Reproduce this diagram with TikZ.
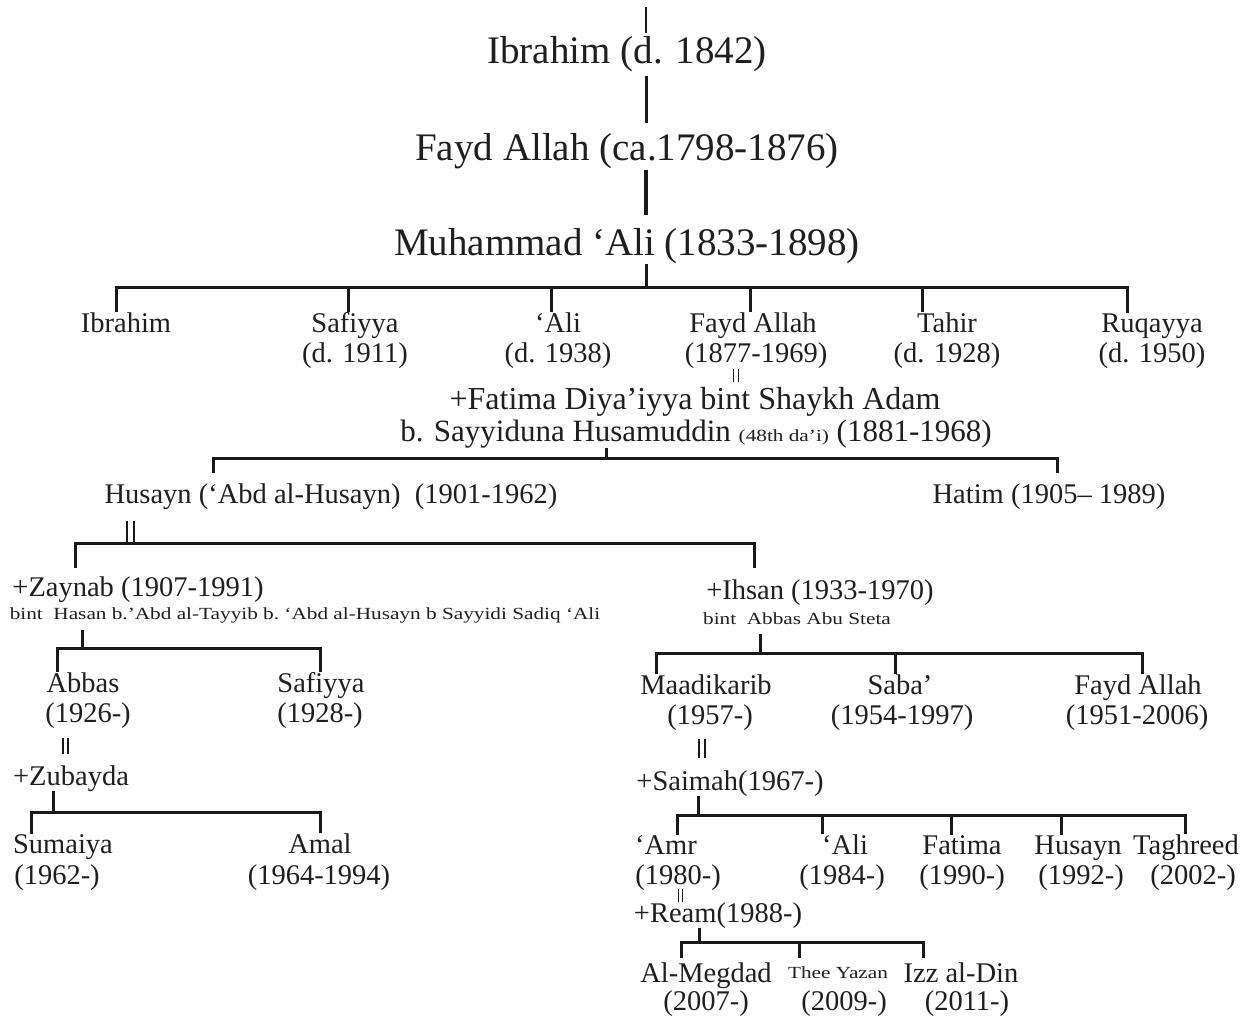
\documentclass[tikz,border=0pt]{standalone}
\usepackage{fontspec}
\usepackage{graphicx}
\setmainfont{Liberation Serif}
\newcommand\tinytxt[1]{{\fontsize{17}{19}\selectfont\scalebox{1.25}[1]{#1}}}
\begin{document}
\begin{tikzpicture}[x=1pt,y=-1pt,
  every node/.style={inner sep=0pt, anchor=base, text=black!88},
  big/.style={font=\fontsize{39}{44}\selectfont},
  mid/.style={font=\fontsize{28.5}{30}\selectfont},
  fat/.style={font=\fontsize{32}{36}\selectfont},
  say/.style={font=\fontsize{31}{34}\selectfont},
  sml/.style={font=\fontsize{17}{19}\selectfont},
  ln/.style={line width=3pt, draw=black!90},
  mar/.style={line width=2.6pt, draw=black!90},
  marthin/.style={line width=1pt, draw=black!90}]
\fill[white] (0,0) rectangle (1255,1017);
\useasboundingbox (0,0) rectangle (1255,1017);

% ---------- generation 0
\node[big] (ib0) at (627,63) {Ibrahim (d. 1842)};
\node[big] (fa0) at (627,160) {Fayd Allah (ca.1798-1876)};
\node[big] (mu0) at (627,255) {Muhammad ‘Ali (1833-1898)};
\coordinate (top) at (646,7);
\coordinate (bar1) at (646,287);
\draw[ln, line width=2.6pt] (top) -- ([yshift=3pt]ib0.north -| top);
\draw[ln] ([yshift=-4pt]ib0.south -| top) -- ([yshift=10pt]fa0.north -| top);
\draw[ln, line width=3.6pt] ([yshift=-1pt]fa0.south -| top) -- ([yshift=13pt]mu0.north -| top);
\draw[ln] (mu0.south -| top) -- (bar1);

% ---------- generation 1
\node[mid] (c1) at (126,332) {Ibrahim};
\node[mid] (c2) at (355,332) {Safiyya};
\node[mid] (c2d) at (355,362) {(d. 1911)};
\node[mid] (c3) at (558,332) {‘Ali};
\node[mid] (c3d) at (558,362) {(d. 1938)};
\node[mid] (c4) at (753,332) {Fayd Allah};
\node[mid] (c4d) at (756,362) {(1877-1969)};
\node[mid] (c5) at (947,332) {Tahir};
\node[mid] (c5d) at (947,362) {(d. 1928)};
\node[mid] (c6) at (1152,332) {Ruqayya};
\node[mid] (c6d) at (1152,362) {(d. 1950)};
\coordinate (g1a) at (116,287);
\coordinate (g1f) at (1127,287);
\draw[ln] (g1a |- c1.north) -- (g1a) -- (g1f) -- (g1f |- c6.north);
\draw[ln] (348,287) -- (348,287 |- c2.north);
\draw[ln] (551,287) -- (551,287 |- c3.north);
\draw[ln] (750,287) -- (750,287 |- c4.north);
\draw[ln] (922,287) -- (922,287 |- c5.north);

% marriage Fayd Allah = Fatima
\node[fat] (w1) at (695,409) {+Fatima Diya’iyya bint Shaykh Adam};
\node[say] (w1b) at (696,441) {b. Sayyiduna Husamuddin \tinytxt{(48th da’i)} (1881-1968)};
\draw[marthin] (733,369) -- (733,382);
\draw[marthin] (738,369) -- (738,382);

% ---------- generation 2
\node[mid] (h2) at (331,503) {Husayn (‘Abd al-Husayn)\ \ (1901-1962)};
\node[mid] (t2) at (1049,503) {Hatim (1905– 1989)};
\coordinate (j2) at (606,458);
\coordinate (g2a) at (213,458);
\coordinate (g2b) at (1057,458);
\draw[ln] (w1b.south -| j2) -- (j2);
\draw[ln] ([yshift=-15pt]g2a) -- (g2a) -- (g2b) -- ([yshift=-15pt]g2b);

% marriage sign under Husayn
\draw[mar] (127,521) -- (127,542);
\draw[mar] (134,521) -- (134,542);
\coordinate (g3a) at (75,543);
\coordinate (g3b) at (754,543);
\draw[ln] ([yshift=-25pt]g3a) -- (g3a) -- (g3b) -- ([yshift=-25pt]g3b);

% wives
\node[mid] (z3) at (138,596) {+Zaynab (1907-1991)};
\node[sml] (z3b) at (305,619) {\scalebox{1.25}[1]{bint\ \ Hasan b.’Abd al-Tayyib b.\ ‘Abd al-Husayn b Sayyidi Sadiq ‘Ali}};
\node[mid] (i3) at (820,599) {+Ihsan (1933-1970)};
\node[sml] (i3b) at (797,624) {\scalebox{1.25}[1]{bint\ \ Abbas Abu Steta}};

% ---------- children of Zaynab
\node[mid] (a4) at (83,692) {Abbas};
\node[mid] (a4d) at (88,722) {(1926-)};
\node[mid] (s4) at (321,692) {Safiyya};
\node[mid] (s4d) at (320,722) {(1928-)};
\coordinate (j4) at (82,648);
\coordinate (g4a) at (57,648);
\coordinate (g4b) at (320,648);
\draw[ln] ([yshift=18pt]j4) -- (j4);
\draw[ln] (g4a |- a4.north) -- (g4a) -- (g4b) -- (g4b |- s4.north);
\draw[mar] (63,738) -- (63,754);
\draw[mar] (68,738) -- (68,754);
\node[mid] (zu5) at (71,785) {+Zubayda};
\node[mid] (su5) at (63,853) {Sumaiya};
\node[mid] (su5d) at (57,884) {(1962-)};
\node[mid] (am5) at (320,853) {Amal};
\node[mid] (am5d) at (319,884) {(1964-1994)};
\coordinate (j5) at (53,812);
\coordinate (g5a) at (31,812);
\coordinate (g5b) at (320,812);
\draw[ln] (zu5.south -| j5) -- (j5);
\draw[ln] (g5a |- su5.north) -- (g5a) -- (g5b) -- (g5b |- am5.north);

% ---------- children of Ihsan
\node[mid] (m4) at (706,694) {Maadikarib};
\node[mid] (m4d) at (710,724) {(1957-)};
\node[mid] (sb4) at (900,694) {Saba’};
\node[mid] (sb4d) at (902,724) {(1954-1997)};
\node[mid] (f4) at (1138,694) {Fayd Allah};
\node[mid] (f4d) at (1137,724) {(1951-2006)};
\coordinate (j6) at (760,653);
\coordinate (g6a) at (656,653);
\coordinate (g6b) at (1142,653);
\draw[ln] ([yshift=19pt]j6) -- (j6);
\draw[ln] (g6a |- m4.north) -- (g6a) -- (g6b) -- (g6b |- f4.north);
\draw[ln] (895,653) -- (895,653 |- sb4.north);
\draw[mar] (699,739) -- (699,758);
\draw[mar] (705,739) -- (705,758);

\node[mid] (sa5) at (730,790) {+Saimah(1967-)};
\node[mid] (k1) at (666,854) {‘Amr};
\node[mid] (k1d) at (678,884) {(1980-)};
\node[mid] (k2) at (845,854) {‘Ali};
\node[mid] (k2d) at (842,884) {(1984-)};
\node[mid] (k3) at (962,854) {Fatima};
\node[mid] (k3d) at (962,884) {(1990-)};
\node[mid] (k4) at (1078,854) {Husayn};
\node[mid] (k4d) at (1081,884) {(1992-)};
\node[mid] (k5) at (1186,854) {Taghreed};
\node[mid] (k5d) at (1193,884) {(2002-)};
\coordinate (j7) at (698,815);
\coordinate (g7a) at (677,815);
\coordinate (g7b) at (1185,815);
\draw[ln] (sa5.south -| j7) -- (j7);
\draw[ln] (g7a |- k1.north) -- (g7a) -- (g7b) -- (g7b |- k5.north);
\draw[ln] (822,815) -- (822,815 |- k2.north);
\draw[ln] (951,815) -- (951,815 |- k3.north);
\draw[ln] (1061,815) -- (1061,815 |- k4.north);
\draw[marthin] (678,889) -- (678,902);
\draw[marthin] (682,889) -- (682,902);

\node[mid] (r6) at (718,922) {+Ream(1988-)};
\node[mid] (q1) at (706,982) {Al-Megdad};
\node[mid] (q1d) at (706,1010) {(2007-)};
\node[sml] (q2) at (838,978) {\scalebox{1.25}[1]{Thee Yazan}};
\node[mid] (q2d) at (844,1010) {(2009-)};
\node[mid] (q3) at (961,982) {Izz al-Din};
\node[mid] (q3d) at (967,1010) {(2011-)};
\coordinate (j8) at (699,942);
\coordinate (g8a) at (681,942);
\coordinate (g8b) at (923,942);
\draw[ln] (r6.south -| j8) -- (j8);
\draw[ln] ([yshift=-16pt]g8a) -- (g8a) -- (g8b) -- ([yshift=-16pt]g8b);
\draw[ln] (799,942) -- (799,958);
\end{tikzpicture}
\end{document}
